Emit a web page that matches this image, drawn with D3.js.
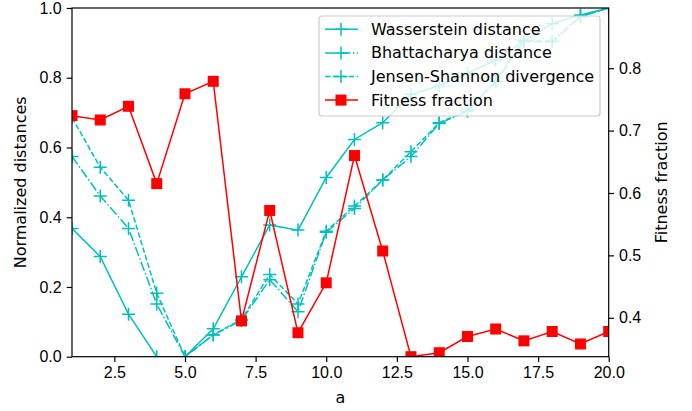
<!DOCTYPE html>
<html>
<head>
<meta charset="utf-8">
<script src="https://cdn.jsdelivr.net/npm/d3@7/dist/d3.min.js"></script>
<style>
body { margin: 0; background: #fff; }
svg { font-family: "DejaVu Sans", sans-serif; }
.axis text { font-size: 16px; fill: #000; }
.axis path, .axis line { stroke: #000; stroke-width: 1.2; }
</style>
</head>
<body>
<svg></svg>
<script>
var screen = {width: 692, height: 411};
var margins = {top: 8, right: 83.3, bottom: 54.3, left: 72};

var aValues = [1, 2, 3, 4, 5, 6, 7, 8, 9, 10, 11, 12, 13, 14, 15, 16, 17, 18, 19, 20];
var wasserstein = [0.368, 0.287, 0.122, 0.0, 0.0, 0.080, 0.229, 0.378, 0.363, 0.514, 0.623, 0.671, 0.752, 0.777, 0.813, 0.851, 0.906, 0.955, 0.980, 1.0];
var bhattacharya = [0.574, 0.461, 0.368, 0.151, 0.0, 0.062, 0.104, 0.221, 0.129, 0.357, 0.425, 0.507, 0.574, 0.669, 0.704, 0.789, 0.904, 0.903, 0.975, 1.0];
var jensen = [0.686, 0.543, 0.449, 0.182, 0.0, 0.063, 0.107, 0.236, 0.151, 0.360, 0.432, 0.507, 0.588, 0.671, 0.706, 0.790, 0.907, 0.905, 0.977, 1.0];
var fitness = [0.724, 0.717, 0.739, 0.615, 0.759, 0.779, 0.395, 0.572, 0.376, 0.456, 0.660, 0.507, 0.3376, 0.344, 0.370, 0.382, 0.363, 0.378, 0.358, 0.378];

var xTicks = [2.5, 5.0, 7.5, 10.0, 12.5, 15.0, 17.5, 20.0];
var leftTicks = [0.0, 0.2, 0.4, 0.6, 0.8, 1.0];
var rightTicks = [0.4, 0.5, 0.6, 0.7, 0.8];

var series = [
    {name: "Wasserstein distance", values: wasserstein, dash: null},
    {name: "Bhattacharya distance", values: bhattacharya, dash: "9.6,2.4,1.5,2.4"},
    {name: "Jensen-Shannon divergence", values: jensen, dash: "5.5,2.4"}
];

var cyan = "#00bfbf";
var red = "#ff0000";

var width = screen.width - margins.left - margins.right;
var height = screen.height - margins.top - margins.bottom;

var svg = d3.select("svg")
    .attr("width", screen.width)
    .attr("height", screen.height);

var xScale = d3.scaleLinear().domain([1, 20]).range([0, width]);
var yScale = d3.scaleLinear().domain([0, 1]).range([height, 0]);
var y2Scale = d3.scaleLinear().domain([0.3376, 0.8965]).range([height, 0]);

svg.append("defs").append("clipPath")
    .attr("id", "plotclip")
    .append("rect")
    .attr("width", width)
    .attr("height", height);

var graph = svg.append("g")
    .attr("id", "graph")
    .attr("transform", "translate(" + margins.left + "," + margins.top + ")");

var plot = graph.append("g").attr("clip-path", "url(#plotclip)");

// distance curves (left axis)
series.forEach(function(s)
{
    var line = d3.line()
        .x(function(d, i) { return xScale(aValues[i]); })
        .y(function(d) { return yScale(d); });

    plot.append("path")
        .datum(s.values)
        .attr("fill", "none")
        .attr("stroke", cyan)
        .attr("stroke-width", 1.5)
        .attr("stroke-dasharray", s.dash)
        .attr("d", line);

    plot.append("g")
        .selectAll("path")
        .data(s.values)
        .enter()
        .append("path")
        .attr("transform", function(d, i) { return "translate(" + xScale(aValues[i]) + "," + yScale(d) + ")"; })
        .attr("d", "M-6.5,0H6.5M0,-6.5V6.5")
        .attr("stroke", cyan)
        .attr("stroke-width", 1.5);
});

// fitness fraction (right axis)
var fitLine = d3.line()
    .x(function(d, i) { return xScale(aValues[i]); })
    .y(function(d) { return y2Scale(d); });

plot.append("path")
    .datum(fitness)
    .attr("fill", "none")
    .attr("stroke", red)
    .attr("stroke-width", 1.5)
    .attr("d", fitLine);

plot.append("g")
    .selectAll("rect")
    .data(fitness)
    .enter()
    .append("rect")
    .attr("x", function(d, i) { return xScale(aValues[i]) - 5.5; })
    .attr("y", function(d) { return y2Scale(d) - 5.5; })
    .attr("width", 11)
    .attr("height", 11)
    .attr("fill", red);

// axes
var xAxis = d3.axisBottom(xScale).tickValues(xTicks).tickFormat(d3.format(".1f")).tickSizeOuter(0).tickSize(5.3).tickPadding(5);
var yAxis = d3.axisLeft(yScale).tickValues(leftTicks).tickFormat(d3.format(".1f")).tickSizeOuter(0).tickSize(5.3).tickPadding(5);
var y2Axis = d3.axisRight(y2Scale).tickValues(rightTicks).tickFormat(d3.format(".1f")).tickSizeOuter(0).tickSize(5.3).tickPadding(5);

graph.append("g").attr("class", "axis").attr("transform", "translate(0," + height + ")").call(xAxis);
graph.append("g").attr("class", "axis").call(yAxis);
graph.append("g").attr("class", "axis").attr("transform", "translate(" + width + ",0)").call(y2Axis);

graph.selectAll(".axis .domain").remove();

graph.append("rect")
    .attr("width", width)
    .attr("height", height)
    .attr("fill", "none")
    .attr("stroke", "#000")
    .attr("stroke-width", 1.2);

// axis labels
svg.append("text")
    .attr("x", margins.left + width / 2)
    .attr("y", 403)
    .style("text-anchor", "middle")
    .style("font-size", "16px")
    .text("a");

svg.append("text")
    .attr("transform", "translate(26," + (margins.top + height / 2) + ") rotate(-90)")
    .style("text-anchor", "middle")
    .style("font-size", "16px")
    .text("Normalized distances");

svg.append("text")
    .attr("transform", "translate(667," + (margins.top + height / 2) + ") rotate(-90)")
    .style("text-anchor", "middle")
    .style("font-size", "16px")
    .text("Fitness fraction");

// legend
var legendItems = series.map(function(s) { return {name: s.name, dash: s.dash, color: cyan, marker: "plus"}; });
legendItems.push({name: "Fitness fraction", dash: null, color: red, marker: "square"});

var legend = svg.append("g").attr("id", "legend");

legend.append("rect")
    .attr("x", 319)
    .attr("y", 16)
    .attr("width", 281)
    .attr("height", 100)
    .attr("rx", 3)
    .attr("fill", "#fff")
    .attr("fill-opacity", 0.8)
    .attr("stroke", "#cccccc")
    .attr("stroke-width", 1.2);

var gs = legend.selectAll("g.item")
    .data(legendItems)
    .enter()
    .append("g")
    .attr("class", "item")
    .attr("transform", function(d, i) { return "translate(0," + (29.3 + i * 23.6) + ")"; });

gs.append("line")
    .attr("x1", 325)
    .attr("x2", 358)
    .attr("stroke", function(d) { return d.color; })
    .attr("stroke-width", 1.5)
    .attr("stroke-dasharray", function(d) { return d.dash; });

gs.filter(function(d) { return d.marker == "plus"; })
    .append("path")
    .attr("d", "M334.5,0H347.5M341,-6.5V6.5")
    .attr("stroke", cyan)
    .attr("stroke-width", 1.5);

gs.filter(function(d) { return d.marker == "square"; })
    .append("rect")
    .attr("x", 335.5)
    .attr("y", -5.5)
    .attr("width", 11)
    .attr("height", 11)
    .attr("fill", red);

gs.append("text")
    .attr("x", 371)
    .attr("y", 5.5)
    .style("font-size", "16px")
    .text(function(d) { return d.name; });
</script>
</body>
</html>
